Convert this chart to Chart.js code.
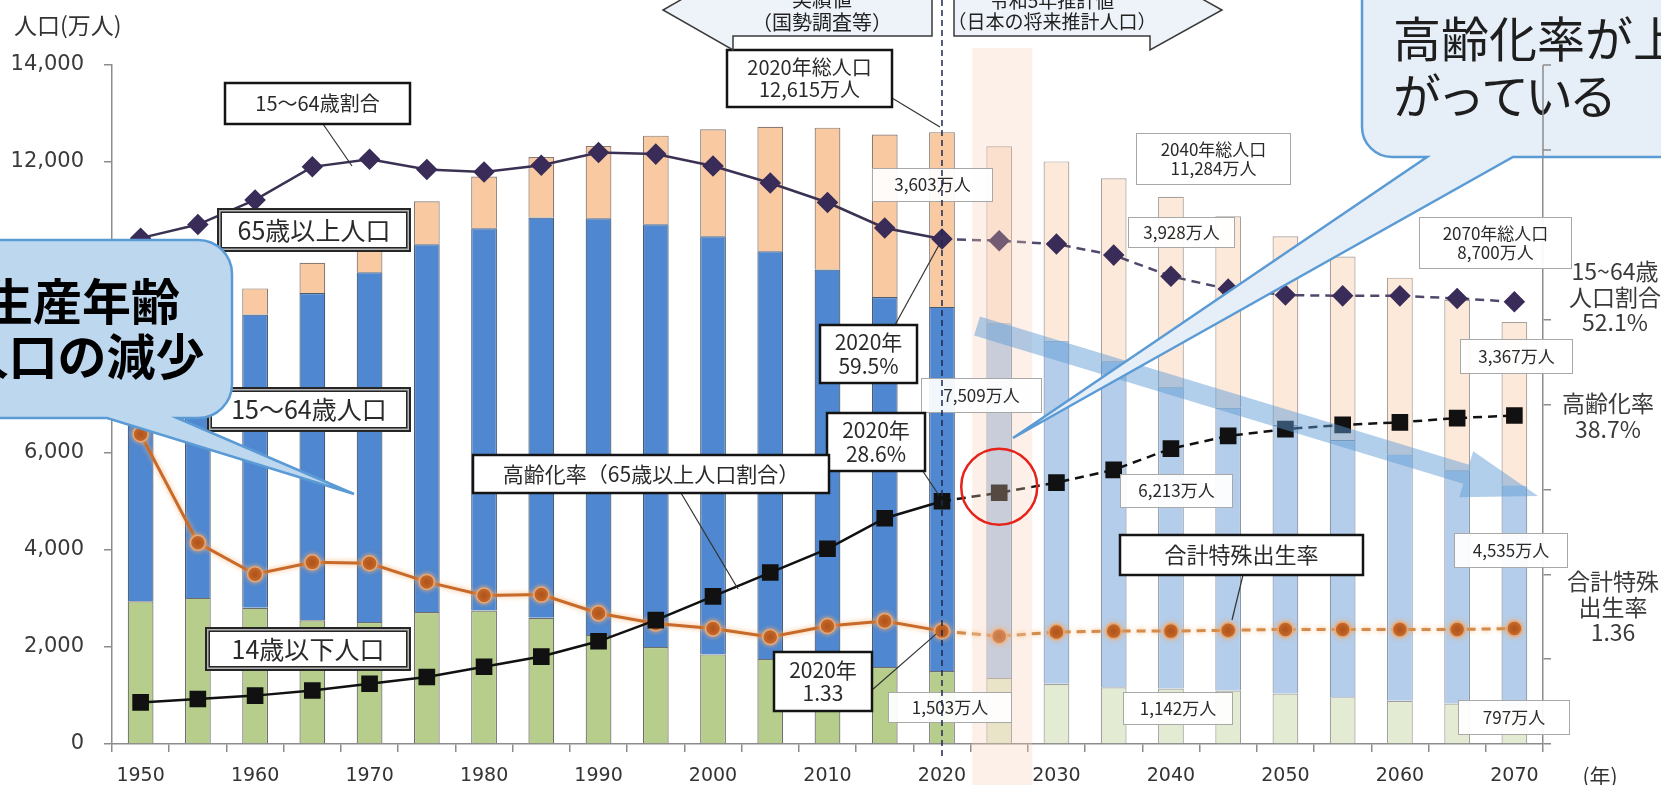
<!DOCTYPE html>
<html lang="ja">
<head>
<meta charset="UTF-8">
<title>日本の人口の推移</title>
<script src="https://cdn.jsdelivr.net/npm/chart.js@4.4.1/dist/chart.umd.min.js"></script>
<style>
  html, body { margin: 0; padding: 0; background: #fff; }
  #wrap { width: 1661px; height: 785px; }
</style>
</head>
<body>
<div id="wrap"><canvas id="popChart" width="1661" height="785"></canvas></div>
<script>
// 年（5年ごと）
const years = ['1950', '1955', '1960', '1965', '1970', '1975', '1980', '1985', '1990', '1995',
               '2000', '2005', '2010', '2015', '2020', '2025', '2030', '2035', '2040', '2045',
               '2050', '2055', '2060', '2065', '2070'];
// 人口（万人）
const pop0to14  = [2943, 3012, 2807, 2553, 2515, 2722, 2751, 2603, 2249, 2001, 1847, 1752, 1680, 1589, 1503,
                   1363, 1240, 1169, 1142, 1103, 1041, 966, 893, 836, 797];
const pop15to64 = [4966, 5517, 6047, 6744, 7212, 7581, 7883, 8251, 8590, 8716, 8622, 8409, 8103, 7629, 7509,
                   7310, 7076, 6722, 6213, 5832, 5540, 5302, 5078, 4809, 4535];
const pop65over = [416, 479, 540, 624, 739, 887, 1065, 1247, 1489, 1826, 2204, 2567, 2925, 3347, 3603,
                   3653, 3696, 3773, 3928, 3945, 3888, 3784, 3644, 3513, 3367];
// 割合（%）
const ratio15to64 = [59.6, 61.2, 64.1, 68.0, 68.9, 67.7, 67.4, 68.2, 69.7, 69.5, 68.1, 66.1, 63.8, 60.8, 59.5,
                     59.3, 58.9, 57.6, 55.1, 53.6, 52.9, 52.8, 52.8, 52.5, 52.1];
const agingRate   = [4.9, 5.3, 5.7, 6.3, 7.1, 7.9, 9.1, 10.3, 12.1, 14.6, 17.4, 20.2, 23.0, 26.6, 28.6,
                     29.6, 30.8, 32.3, 34.8, 36.3, 37.1, 37.6, 37.9, 38.4, 38.7];
// 合計特殊出生率
const fertilityRate = [3.65, 2.37, 2.00, 2.14, 2.13, 1.91, 1.75, 1.76, 1.54, 1.42, 1.36, 1.26, 1.39, 1.45, 1.33,
                       1.27, 1.32, 1.33, 1.33, 1.34, 1.35, 1.35, 1.35, 1.35, 1.36];

const lastActualIndex = 14; // 2020年までが実績値

const JP_FONT = "'Noto Sans CJK JP', sans-serif";
const NUM_FONT = "'DejaVu Sans', sans-serif";

// 実績値と推計値で色を分ける
function colorsFor(actual, projected) {
    return years.map((y, i) => i > lastActualIndex ? projected : actual);
}
const dashAfter2020 = ctx => ctx.p0DataIndex >= lastActualIndex ? [9, 6] : undefined;

// ラベルの箱
const blackBoxes = [
    { x1: 225, y1: 83, x2: 410, y2: 124, lines: ['15～64歳割合'], size: 20 },
    { x1: 727, y1: 50, x2: 892, y2: 107, lines: ['2020年総人口', '12,615万人'], size: 20 },
    { x1: 820, y1: 325, x2: 917, y2: 383, lines: ['2020年', '59.5%'], size: 21 },
    { x1: 827, y1: 413, x2: 925, y2: 471, lines: ['2020年', '28.6%'], size: 21 },
    { x1: 473, y1: 455, x2: 829, y2: 493, lines: ['高齢化率（65歳以上人口割合）'], size: 21 },
    { x1: 774, y1: 652, x2: 872, y2: 711, lines: ['2020年', '1.33'], size: 21 },
    { x1: 1120, y1: 535, x2: 1363, y2: 575, lines: ['合計特殊出生率'], size: 22 }
];
const doubleBoxes = [
    { x1: 217, y1: 208, x2: 411, y2: 252, lines: ['65歳以上人口'], size: 25 },
    { x1: 207, y1: 387, x2: 411, y2: 432, lines: ['15～64歳人口'], size: 25 },
    { x1: 205, y1: 627, x2: 411, y2: 671, lines: ['14歳以下人口'], size: 25 }
];
const grayBoxes = [
    { x1: 872, y1: 168, x2: 993, y2: 202, lines: ['3,603万人'] },
    { x1: 921, y1: 378, x2: 1042, y2: 413, lines: ['7,509万人'] },
    { x1: 888, y1: 692, x2: 1012, y2: 723, lines: ['1,503万人'] },
    { x1: 1136, y1: 133, x2: 1291, y2: 185, lines: ['2040年総人口', '11,284万人'] },
    { x1: 1128, y1: 217, x2: 1235, y2: 248, lines: ['3,928万人'] },
    { x1: 1120, y1: 474, x2: 1233, y2: 508, lines: ['6,213万人'] },
    { x1: 1123, y1: 692, x2: 1233, y2: 725, lines: ['1,142万人'] },
    { x1: 1419, y1: 217, x2: 1572, y2: 269, lines: ['2070年総人口', '8,700万人'] },
    { x1: 1460, y1: 339, x2: 1573, y2: 374, lines: ['3,367万人'] },
    { x1: 1454, y1: 533, x2: 1568, y2: 568, lines: ['4,535万人'] },
    { x1: 1458, y1: 700, x2: 1570, y2: 735, lines: ['797万人'] }
];

function drawLines(ctx, lines, cx, cy, size, color, weight) {
    ctx.font = (weight || 'normal') + ' ' + size + 'px ' + JP_FONT;
    ctx.fillStyle = color;
    ctx.textAlign = 'center';
    ctx.textBaseline = 'middle';
    const lh = size * 1.12;
    const top = cy - (lines.length - 1) * lh / 2;
    lines.forEach((t, i) => ctx.fillText(t, cx, top + i * lh));
}

function drawBox(ctx, b, style) {
    const w = b.x2 - b.x1, h = b.y2 - b.y1;
    if (style === 'double') {
        ctx.fillStyle = '#262626'; ctx.fillRect(b.x1, b.y1, w, h);
        ctx.fillStyle = '#b5b5b5'; ctx.fillRect(b.x1 + 2, b.y1 + 2, w - 4, h - 4);
        ctx.fillStyle = '#262626'; ctx.fillRect(b.x1 + 3.5, b.y1 + 3.5, w - 7, h - 7);
        ctx.fillStyle = '#fff'; ctx.fillRect(b.x1 + 5, b.y1 + 5, w - 10, h - 10);
    } else if (style === 'gray') {
        ctx.fillStyle = 'rgba(255,255,255,0.93)';
        ctx.fillRect(b.x1, b.y1, w, h);
        ctx.strokeStyle = '#a8a8a8'; ctx.lineWidth = 1;
        ctx.strokeRect(b.x1 + 0.5, b.y1 + 0.5, w - 1, h - 1);
    } else {
        ctx.fillStyle = '#fff';
        ctx.fillRect(b.x1, b.y1, w, h);
        ctx.strokeStyle = '#141414'; ctx.lineWidth = 2.5;
        ctx.strokeRect(b.x1, b.y1, w, h);
    }
    drawLines(ctx, b.lines, (b.x1 + b.x2) / 2, (b.y1 + b.y2) / 2, b.size || 17, '#2a2a2a');
}

function leader(ctx, x1, y1, x2, y2) {
    ctx.beginPath();
    ctx.moveTo(x1, y1);
    ctx.lineTo(x2, y2);
    ctx.strokeStyle = '#333';
    ctx.lineWidth = 1.2;
    ctx.stroke();
}

// 吹き出し（角丸四角形＋しっぽ）
function callout(ctx, L, T, R, B, r, bx1, bx2, tx, ty, fill) {
    ctx.beginPath();
    ctx.moveTo(L + r, T);
    ctx.lineTo(R - r, T);
    ctx.arcTo(R, T, R, T + r, r);
    ctx.lineTo(R, B - r);
    ctx.arcTo(R, B, R - r, B, r);
    ctx.lineTo(bx2, B);
    ctx.lineTo(tx, ty);
    ctx.lineTo(bx1, B);
    ctx.lineTo(L + r, B);
    ctx.arcTo(L, B, L, B - r, r);
    ctx.lineTo(L, T + r);
    ctx.arcTo(L, T, L + r, T, r);
    ctx.closePath();
    ctx.fillStyle = fill;
    ctx.fill();
    ctx.strokeStyle = '#5b9bd5';
    ctx.lineWidth = 2.5;
    ctx.stroke();
}

function polygon(ctx, pts, fill, stroke) {
    ctx.beginPath();
    pts.forEach((p, i) => i ? ctx.lineTo(p[0], p[1]) : ctx.moveTo(p[0], p[1]));
    ctx.closePath();
    ctx.fillStyle = fill;
    ctx.fill();
    if (stroke) {
        ctx.strokeStyle = stroke;
        ctx.lineWidth = 1.5;
        ctx.stroke();
    }
}

// 出生率の線にうっすら光彩をつける
const glowPlugin = {
    id: 'glow',
    beforeDatasetDraw(chart, args) {
        if (chart.data.datasets[args.index].label === '合計特殊出生率') {
            chart.ctx.save();
            chart.ctx.shadowColor = 'rgba(245, 175, 110, 0.9)';
            chart.ctx.shadowBlur = 5;
        }
    },
    afterDatasetDraw(chart, args) {
        if (chart.data.datasets[args.index].label === '合計特殊出生率') {
            chart.ctx.restore();
        }
    }
};

const overlayPlugin = {
    id: 'overlay',
    afterDraw(chart) {
        const ctx = chart.ctx;
        const xs = chart.scales.x, y1 = chart.scales.y1, y2 = chart.scales.y2;
        const x2020 = xs.getPixelForValue(lastActualIndex);
        const x2025 = xs.getPixelForValue(lastActualIndex + 1);
        ctx.save();

        // 2025年の強調帯
        ctx.fillStyle = 'rgba(249, 205, 178, 0.3)';
        ctx.fillRect(x2025 - 27, 48, 60, chart.height - 48);

        grayBoxes.forEach(b => drawBox(ctx, b, 'gray'));

        // 2020年の区切り線
        ctx.beginPath();
        ctx.setLineDash([6, 4]);
        ctx.moveTo(x2020, 0);
        ctx.lineTo(x2020, chart.chartArea.bottom + 12);
        ctx.strokeStyle = '#1f2850';
        ctx.lineWidth = 1.5;
        ctx.stroke();
        ctx.setLineDash([]);

        // 引き出し線
        leader(ctx, 323, 124, 352, 166);
        leader(ctx, 892, 98, x2020 - 2, 127);
        leader(ctx, 895, 325, x2020 - 3, y1.getPixelForValue(ratio15to64[lastActualIndex]) + 6);
        leader(ctx, 906, 446, x2020 - 3, y1.getPixelForValue(agingRate[lastActualIndex]) - 6);
        leader(ctx, 681, 493, 738, 589);
        leader(ctx, 872, 690, x2020 - 6, y2.getPixelForValue(fertilityRate[lastActualIndex]) + 3);
        leader(ctx, 1243, 575, 1232, 620);

        blackBoxes.forEach(b => drawBox(ctx, b, 'black'));
        doubleBoxes.forEach(b => drawBox(ctx, b, 'double'));

        // 赤丸（2025年の高齢化率）
        ctx.beginPath();
        ctx.arc(x2025, y1.getPixelForValue(agingRate[lastActualIndex + 1]) - 6, 38, 0, Math.PI * 2);
        ctx.strokeStyle = '#e5231b';
        ctx.lineWidth = 2.5;
        ctx.stroke();

        // 15～64歳人口の減少を示す青い矢印
        const sx = 977, sy = 326, tx = 1538, ty = 496;
        const len = Math.hypot(tx - sx, ty - sy);
        const ux = (tx - sx) / len, uy = (ty - sy) / len;
        const nx = -uy, ny = ux;
        const hw = 10, HW = 24, headLen = 75;
        const hx = tx - ux * headLen, hy = ty - uy * headLen;
        polygon(ctx, [
            [sx + nx * hw, sy + ny * hw], [hx + nx * hw, hy + ny * hw], [hx + nx * HW, hy + ny * HW],
            [tx, ty],
            [hx - nx * HW, hy - ny * HW], [hx - nx * hw, hy - ny * hw], [sx - nx * hw, sy - ny * hw]
        ], 'rgba(91, 155, 213, 0.48)');

        // 吹き出し
        callout(ctx, -40, 240, 232, 418, 34, 107, 177, 354, 494, '#bdd7ee');
        drawLines(ctx, ['生産年齢', '人口の減少'], 82, 329, 49, '#000', 'bold');

        callout(ctx, 1362, -40, 1720, 157, 30, 1427, 1513, 1013, 438, '#e6eef8');
        ctx.font = '48px ' + JP_FONT;
        ctx.fillStyle = '#1e1e1e';
        ctx.textAlign = 'left';
        ctx.textBaseline = 'middle';
        ctx.fillText('高齢化率が上', 1393, 39);
        ctx.letterSpacing = '-4px';
        ctx.fillText('がっている', 1393, 96);
        ctx.letterSpacing = '0px';

        // 吹き出しの上に右軸を描き直す
        ctx.strokeStyle = '#8c8c8c';
        ctx.lineWidth = 1.5;
        ctx.beginPath();
        ctx.moveTo(y1.left, y1.getPixelForValue(80));
        ctx.lineTo(y1.left, 157);
        [80, 70].forEach(v => {
            const yy = y1.getPixelForValue(v);
            ctx.moveTo(y1.left, yy);
            ctx.lineTo(y1.left + 8, yy);
        });
        ctx.stroke();

        // 上部の矢印（実績値／推計値）
        polygon(ctx, [[932, -20], [932, 36], [733, 36], [733, 50], [663, 10], [733, -30], [733, -20]],
                '#eef3f9', '#3a3a3a');
        polygon(ctx, [[954, -20], [1150, -20], [1150, -30], [1222, 10], [1150, 50], [1150, 36], [954, 36]],
                '#eef3f9', '#3a3a3a');
        drawLines(ctx, ['実績値', '（国勢調査等）'], 822, 11, 20, '#222');
        drawLines(ctx, ['令和5年推計値', '（日本の将来推計人口）'], 1052, 11, 19, '#222');

        // 右側の説明
        drawLines(ctx, ['15~64歳', '人口割合', '52.1%'], 1615, 297, 23, '#3a3a3a');
        drawLines(ctx, ['高齢化率', '38.7%'], 1608, 416, 23, '#3a3a3a');
        drawLines(ctx, ['合計特殊', '出生率', '1.36'], 1613, 607, 23, '#3a3a3a');

        // 軸タイトル
        ctx.font = '23px ' + JP_FONT;
        ctx.fillStyle = '#333';
        ctx.textAlign = 'left';
        ctx.textBaseline = 'middle';
        ctx.fillText('人口(万人)', 14, 25);
        ctx.font = '21px ' + JP_FONT;
        ctx.textAlign = 'center';
        ctx.fillText('(年)', 1600, 776);

        ctx.restore();
    }
};

document.addEventListener('DOMContentLoaded', function() {
    const ctx = document.getElementById('popChart').getContext('2d');
    const barShared = {
        type: 'bar',
        yAxisID: 'y',
        borderWidth: 1.2,
        barPercentage: 0.9,
        categoryPercentage: 0.5,
        order: 2
    };
    new Chart(ctx, {
        type: 'bar',
        data: {
            labels: years,
            datasets: [
                Object.assign({}, barShared, {
                    label: '14歳以下人口',
                    data: pop0to14,
                    backgroundColor: colorsFor('#b6cd8b', '#e3ecd2'),
                    borderColor: colorsFor('#6e6e6e', '#a0a0a0')
                }),
                Object.assign({}, barShared, {
                    label: '15～64歳人口',
                    data: pop15to64,
                    backgroundColor: colorsFor('#4f87d0', '#b4cdea'),
                    borderColor: colorsFor('#4a5a70', '#8c98a8')
                }),
                Object.assign({}, barShared, {
                    label: '65歳以上人口',
                    data: pop65over,
                    backgroundColor: colorsFor('#f9c9a2', '#fde9da'),
                    borderColor: colorsFor('#8a7a70', '#a8a09a')
                }),
                {
                    type: 'line',
                    label: '15～64歳割合',
                    data: ratio15to64,
                    yAxisID: 'y1',
                    borderColor: '#3b3152',
                    borderWidth: 2.5,
                    pointStyle: 'rectRot',
                    pointRadius: 9,
                    pointBackgroundColor: '#3a2c58',
                    pointBorderColor: '#3a2c58',
                    tension: 0,
                    segment: { borderDash: dashAfter2020, borderColor: ctx => ctx.p0DataIndex >= lastActualIndex ? '#50476a' : undefined },
                    order: 0
                },
                {
                    type: 'line',
                    label: '高齢化率',
                    data: agingRate,
                    yAxisID: 'y1',
                    borderColor: '#111',
                    borderWidth: 2.5,
                    pointStyle: 'rect',
                    pointRadius: 10,
                    pointBackgroundColor: '#111',
                    pointBorderColor: '#111',
                    tension: 0,
                    segment: { borderDash: dashAfter2020 },
                    order: 0
                },
                {
                    type: 'line',
                    label: '合計特殊出生率',
                    data: fertilityRate,
                    yAxisID: 'y2',
                    borderColor: '#c86a2a',
                    borderWidth: 3,
                    pointStyle: 'circle',
                    pointRadius: 7.5,
                    pointBackgroundColor: '#b3541a',
                    pointBorderColor: '#e6a878',
                    pointBorderWidth: 1.5,
                    tension: 0,
                    segment: { borderDash: dashAfter2020, borderColor: ctx => ctx.p0DataIndex >= lastActualIndex ? '#d38c4c' : undefined },
                    order: 0
                }
            ]
        },
        options: {
            responsive: false,
            animation: false,
            devicePixelRatio: 1,
            layout: { padding: { top: 65, left: 0, right: 0, bottom: 0 } },
            plugins: {
                legend: { display: false },
                tooltip: { enabled: false }
            },
            scales: {
                x: {
                    stacked: true,
                    grid: { drawOnChartArea: false, tickLength: 8, color: '#8c8c8c', lineWidth: 1.5 },
                    border: { color: '#8c8c8c', width: 1.5 },
                    ticks: {
                        autoSkip: false,
                        maxRotation: 0,
                        padding: 13,
                        color: '#333',
                        font: { family: NUM_FONT, size: 19 },
                        callback: function(value, index) {
                            return Number(years[index]) % 10 === 0 ? years[index] : '';
                        }
                    },
                    afterFit: function(scale) { scale.height = 41; }
                },
                y: {
                    stacked: true,
                    min: 0,
                    max: 14000,
                    grid: { drawOnChartArea: false, tickLength: 8, color: '#8c8c8c', lineWidth: 1.5 },
                    border: { color: '#8c8c8c', width: 1.5 },
                    ticks: {
                        stepSize: 2000,
                        padding: 20,
                        color: '#3a3a3a',
                        font: { family: NUM_FONT, size: 21 },
                        callback: v => v.toLocaleString('en-US')
                    },
                    afterFit: function(scale) { scale.width = 112; }
                },
                y1: {
                    position: 'right',
                    min: 0,
                    max: 80,
                    grid: { drawOnChartArea: false, tickLength: 8, color: '#8c8c8c', lineWidth: 1.5 },
                    border: { color: '#8c8c8c', width: 1.5 },
                    ticks: { stepSize: 10, callback: () => '' },
                    afterFit: function(scale) { scale.width = 118; }
                },
                y2: {
                    display: false,
                    position: 'right',
                    min: 0,
                    max: 8
                }
            }
        },
        plugins: [glowPlugin, overlayPlugin]
    });
});
</script>
</body>
</html>
